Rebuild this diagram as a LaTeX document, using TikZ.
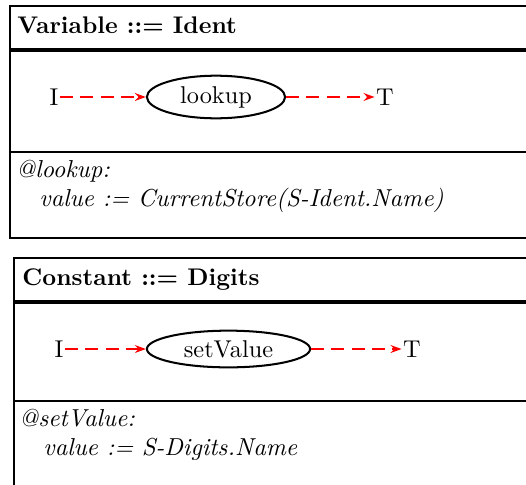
\documentclass[tikz,border=0pt]{standalone}
\usetikzlibrary{shapes.geometric,arrows.meta}
\begin{document}
\begin{tikzpicture}[x=0.42pt,y=-0.42pt,
  every node/.style={font=\fontsize{10.2pt}{12.3pt}\selectfont},
  box/.style={line width=0.95pt},
  headline/.style={line width=1.3pt},
  action/.style={ellipse,draw,line width=0.85pt,inner xsep=5.5pt,inner ysep=1.8pt},
  port/.style={inner sep=0.5pt},
  flow/.style={red,line width=0.75pt,dash pattern=on 5.5pt off 3pt,-{Stealth[length=4.6pt,width=3.3pt]}},
  header/.style={anchor=base west,inner sep=0pt,font=\fontsize{10.1pt}{12.2pt}\selectfont\bfseries},
  code/.style={anchor=base west,inner sep=0pt,font=\fontsize{10.3pt}{12.4pt}\selectfont\itshape}]
\useasboundingbox (0,0) rectangle (526,484);
\clip (0,0) rectangle (526,484);
\coordinate (v1) at (54,97);
\coordinate (v2) at (216,97);
\coordinate (v3) at (385,97);
\coordinate (c1) at (59,349);
\coordinate (c2) at (228.5,349);
\coordinate (c3) at (412,349);

  % Variable ::= Ident
  \draw[box] (540,6) -- (10,6) -- (10,238) -- (540,238);
  \draw[headline] (10,50) -- (540,50);
  \draw[box] (10,152) -- (540,152);
  \node[header] (varhead) at (17,33) {Variable ::= Ident};
  \node[port] (varI) at (v1) {I};
  \node[action] (lookup) at (v2) {lookup};
  \node[port] (varT) at (v3) {T};
  \draw[flow] (varI) -- (lookup);
  \draw[flow] (lookup) -- (varT);
  \node[code] (varat) at (16,177) {@lookup:};
  \node[code] (varval) at (39,206) {value := CurrentStore(S-Ident.Name)};

  % Constant ::= Digits
  \draw[box] (540,258) -- (14,258) -- (14,490) -- (540,490);
  \draw[headline] (14,302) -- (540,302);
  \draw[box] (14,401) -- (540,401);
  \node[header] (conhead) at (22,285) {Constant ::= Digits};
  \node[port] (conI) at (c1) {I};
  \node[action] (setvalue) at (c2) {setValue};
  \node[port] (conT) at (c3) {T};
  \draw[flow] (conI) -- (setvalue);
  \draw[flow] (setvalue) -- (conT);
  \node[code] (conat) at (19,426) {@setValue:};
  \node[code] (conval) at (43,455) {value := S-Digits.Name};
\end{tikzpicture}
\end{document}
